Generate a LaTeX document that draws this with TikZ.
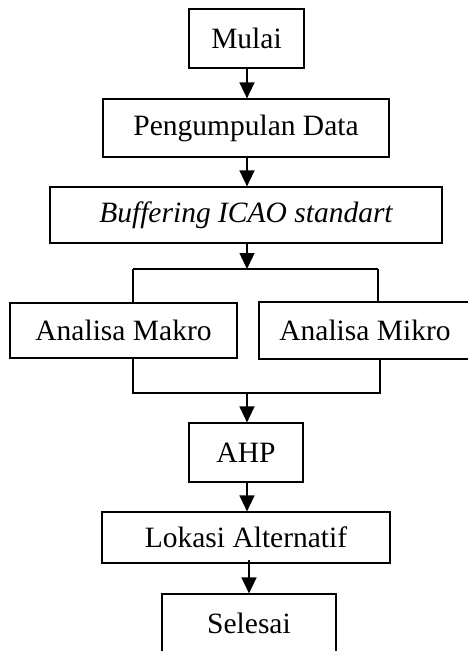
\documentclass[tikz,border=0pt]{standalone}
\usepackage{fontspec}
\setmainfont{Liberation Serif}
\usetikzlibrary{arrows.meta}
\begin{document}
\begin{tikzpicture}[x=1pt, y=-1pt,
  box/.style={draw, line width=1.2pt, inner sep=0pt, font=\fontsize{29.5}{34}\selectfont},
  flow/.style={line width=1.4pt, -{Triangle[length=16pt, width=15pt]}},
  link/.style={line width=1.4pt}]
\useasboundingbox (0,0) rectangle (467,651);
\node[box, minimum width=115pt, minimum height=59pt] (mulai) at (246.5,38.5){Mulai};
\node[box, minimum width=286pt, minimum height=58pt] (data) at (246,128){Pengumpulan Data\hspace{22pt}};
\node[box, minimum width=392pt, minimum height=56pt] (buffer) at (246,215){\itshape Buffering ICAO standart};
\node[box, minimum width=227pt, minimum height=55pt] (makro) at (123.5,330.5){Analisa Makro};
\node[box, minimum width=212pt, minimum height=57pt] (mikro) at (365,330.5){Analisa Mikro};
\node[box, minimum width=114pt, minimum height=59pt] (ahp) at (246,452.5){AHP\hspace{12pt}};
\node[box, minimum width=288pt, minimum height=51pt] (lokasi) at (246,537.5){Lokasi Alternatif};
\node[box, minimum width=174pt, minimum height=58pt] (selesai) at (249,623){Selesai};
\coordinate (split) at (247,269);
\coordinate (splitL) at (133,269);
\coordinate (splitR) at (378,269);
\coordinate (join) at (247,393);
\coordinate (joinL) at (133,393);
\coordinate (joinR) at (380,393);
\draw[flow](mulai.south -| split) -- (data.north -| split);
\draw[flow](data.south -| split) -- (buffer.north -| split);
\draw[flow](buffer.south -| split) -- (split);
\draw[link](splitL) -- (splitR);
\draw[link](splitL) -- (splitL |- makro.north);
\draw[link](splitR) -- (splitR |- mikro.north);
\draw[link](makro.south -| joinL) -- (joinL) -- (joinR) -- (mikro.south -| joinR);
\draw[flow](join) -- (ahp.north -| join);
\draw[flow](ahp.south -| join) -- (lokasi.north -| join);
\draw[flow]([yshift=4pt]lokasi.south -| selesai) -- (selesai.north);
\end{tikzpicture}
\end{document}
